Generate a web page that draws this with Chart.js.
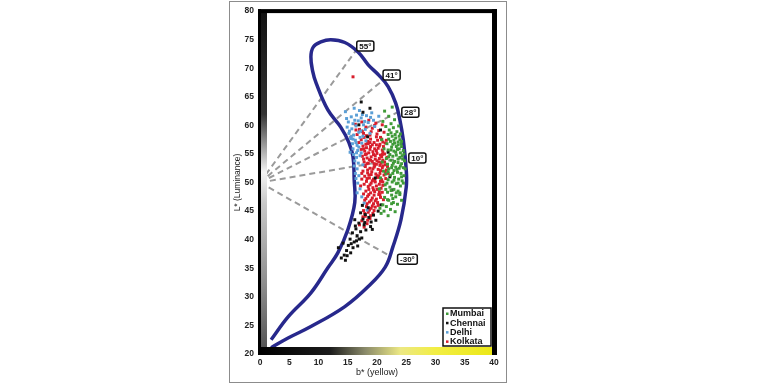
<!DOCTYPE html>
<html>
<head>
<meta charset="utf-8">
<script src="https://cdn.jsdelivr.net/npm/chart.js@4.4.1/dist/chart.umd.min.js"></script>
<style>
  html, body { margin: 0; background: #fff; }
</style>
</head>
<body>
<canvas id="chart" width="768" height="384"></canvas>
<script>
// ── data ──────────────────────────────────────────────────────
const xTicks = [0, 5, 10, 15, 20, 25, 30, 35, 40];
const yTicks = [20, 25, 30, 35, 40, 45, 50, 55, 60, 65, 70, 75, 80];

const seriesNames = ['Mumbai', 'Chennai', 'Delhi', 'Kolkata'];

const mumbai = [
    [22.1,59.2],[22.8,59.6],[23.4,58.9],[21.9,58.4],[22.6,58.1],[23.2,57.8],[23.9,57.5],[22.3,57.2],
    [21.7,56.8],[23.0,56.9],[23.6,56.6],[24.2,56.3],[22.5,56.2],[21.9,55.7],[22.9,55.5],[23.5,55.8],
    [24.0,55.2],[24.5,55.6],[22.2,54.9],[22.7,54.6],[23.3,54.8],[23.9,54.4],[24.4,54.1],[21.6,54.2],
    [22.4,53.9],[23.0,53.7],[23.6,53.5],[24.2,53.3],[24.7,53.8],[21.8,53.2],[22.6,53.0],[23.2,52.7],
    [23.8,52.5],[24.5,52.6],[22.0,52.4],[22.9,52.1],[23.5,51.8],[24.1,51.6],[24.6,51.2],[21.5,51.5],
    [22.3,51.3],[23.0,50.9],[23.7,50.6],[24.3,50.3],[21.9,50.5],[22.6,50.1],[23.3,49.8],[24.0,49.4],
    [24.5,49.9],[21.4,49.6],[22.2,49.2],[22.9,48.8],[23.6,48.5],[21.8,48.3],[22.5,47.8],[23.2,47.5],
    [23.9,47.9],[21.3,47.4],[22.0,46.9],[22.8,46.5],[23.5,46.2],[21.6,45.8],[22.3,45.3],[21.0,46.1],
    [20.7,44.6],[21.9,44.2],[23.1,44.9],[20.5,45.5],[22.4,60.3],[21.5,59.8],[23.0,61.0],[22.0,61.6],
    [21.3,62.5],[22.6,63.2],[21.0,60.7],[24.2,57.2],[24.6,55.0],[24.8,52.4],[20.8,57.5],[21.2,55.9],
    [20.9,53.6],[21.1,52.0],[20.6,50.8],[20.4,48.9],[24.0,58.5],[23.7,59.9],[23.3,56.3],[22.7,51.6],
    [23.9,48.2],[24.2,46.9],[22.4,58.7],[23.1,58.4],[23.8,58.1],[22.0,57.6],[22.9,57.4],[23.6,57.1],
    [22.7,56.7],[24.1,56.8],[22.4,55.7],[23.2,55.3],[23.8,55.9],[24.3,54.7],[22.0,54.5],[23.6,54.1],
    [22.8,53.4],[24.0,52.9],[22.5,52.6],[23.4,52.3],[21.9,51.9],[24.2,51.0],[22.9,50.4],[23.6,49.9],
    [21.7,49.9],[22.4,48.6],[23.3,48.2],[21.5,48.8],[22.7,47.2],[21.8,47.0],[22.5,46.3],[21.2,45.0]
];

const chennai = [
    [17.2,44.7],[18.0,44.4],[18.6,43.9],[17.6,43.6],[19.0,43.1],[16.9,42.9],[17.8,42.6],[16.4,41.9],
    [17.2,41.4],[18.1,41.7],[15.8,41.2],[16.6,40.7],[17.4,40.3],[15.4,40.1],[16.1,39.6],[15.1,39.0],
    [15.9,38.6],[16.7,38.9],[14.8,38.1],[15.5,37.7],[14.4,37.3],[13.9,36.8],[14.6,36.4],[13.4,38.6],
    [14.2,39.4],[18.5,45.6],[19.4,44.3],[19.8,43.4],[20.2,45.0],[17.5,46.0],[18.9,42.3],[16.2,43.5],
    [22.2,51.0],[22.6,48.7],[19.7,50.8],[17.3,64.1],[17.6,62.3],[18.8,63.0],[16.9,60.1],[20.6,59.2],
    [21.9,55.3],[18.4,58.0],[20.7,46.1],[16.3,42.4],[17.0,40.1],[15.6,39.3],[14.9,37.2],[16.5,39.8],
    [19.2,41.8],[17.9,43.0]
];

const delhi = [
    [14.8,61.2],[15.6,61.5],[16.5,61.8],[17.3,61.3],[18.2,61.7],[15.1,60.6],[15.9,60.3],[16.8,60.8],
    [17.7,60.1],[18.5,60.5],[19.4,60.9],[14.9,59.7],[15.7,59.4],[16.4,59.9],[17.2,59.0],[18.0,59.3],
    [15.2,58.6],[16.0,58.3],[16.9,58.8],[17.6,58.1],[15.5,57.7],[16.3,57.4],[17.1,57.9],[15.8,56.8],
    [16.6,56.5],[17.4,56.9],[15.9,55.9],[16.7,55.6],[17.3,55.2],[16.0,54.9],[16.5,54.4],[17.1,54.7],
    [16.2,53.8],[16.8,53.4],[16.1,52.9],[16.6,52.4],[16.3,51.6],[16.9,51.2],[16.4,50.7],[16.7,49.9],
    [17.1,48.9],[16.6,48.2],[17.4,47.5],[17.8,46.4],[18.3,45.2],[19.1,62.2],[18.8,58.6],[19.6,59.8],
    [14.6,62.4],[16.1,63.0],[17.0,62.6],[20.3,61.6],[18.1,57.3],[15.4,55.3],[17.6,53.1],[15.3,59.0],
    [16.2,60.9],[17.9,60.7],[15.6,58.0],[16.4,57.0],[15.9,57.6],[16.5,55.2],[16.9,56.2],[17.5,61.9],
    [18.9,61.4]
];

const kolkata = [
    [16.3,60.2],[17.4,60.6],[18.6,60.9],[19.8,60.4],[20.9,60.1],[17.0,59.3],[18.1,59.7],[19.2,59.5],
    [20.3,59.1],[21.2,58.8],[16.6,58.4],[17.7,58.6],[18.8,58.3],[19.9,58.0],[20.8,57.6],[17.3,57.5],
    [18.4,57.2],[19.5,57.0],[20.5,56.7],[21.4,56.9],[17.6,56.4],[18.2,56.1],[18.9,56.3],[19.6,55.9],
    [20.2,56.0],[20.9,55.7],[17.9,55.5],[18.6,55.2],[19.3,55.4],[20.0,55.1],[20.6,54.8],[21.3,55.0],
    [17.5,54.6],[18.3,54.3],[19.0,54.5],[19.7,54.1],[20.4,54.2],[21.0,53.9],[21.7,54.4],[17.8,53.6],
    [18.5,53.4],[19.2,53.7],[19.9,53.2],[20.7,53.4],[21.4,53.1],[18.0,52.8],[18.8,52.5],[19.5,52.7],
    [20.2,52.3],[20.9,52.6],[21.6,52.2],[17.6,52.0],[18.4,51.7],[19.1,51.9],[19.8,51.5],[20.5,51.6],
    [21.2,51.3],[17.9,51.1],[18.7,50.8],[19.4,50.6],[20.1,50.9],[20.8,50.5],[21.5,50.7],[18.2,50.2],
    [19.0,49.9],[19.7,50.1],[20.4,49.7],[18.5,49.3],[19.3,49.1],[20.0,48.8],[20.7,49.0],[18.1,48.5],
    [18.9,48.2],[19.6,48.4],[20.3,47.9],[18.4,47.6],[19.2,47.3],[19.9,47.1],[20.6,47.4],[17.9,46.9],
    [18.7,46.6],[19.4,46.3],[20.1,46.5],[18.2,45.8],[19.0,45.5],[19.7,45.7],[17.7,45.1],[18.5,44.8],
    [19.3,44.6],[18.0,44.1],[18.8,43.7],[17.4,43.3],[18.3,42.8],[17.8,42.2],[18.5,56.8],[19.9,56.6],
    [21.1,56.3],[18.0,54.9],[19.4,54.9],[20.8,54.5],[18.9,53.9],[20.3,53.6],[17.9,53.0],[19.6,52.9],
    [21.0,52.9],[18.6,51.3],[20.0,51.2],[21.0,50.1],[19.2,50.3],[17.3,55.8],[20.6,57.9],[19.0,58.9],
    [21.6,57.4],[21.8,52.8],[21.9,51.6],[17.4,50.6],[17.2,49.4],[20.9,48.3],[21.1,47.0],[16.9,57.0],
    [16.4,59.2],[15.9,68.5],[17.8,57.9],[18.9,57.6],[20.1,57.4],[21.0,57.1],[18.1,56.7],[19.2,56.6],
    [20.4,56.4],[17.7,55.9],[18.8,55.8],[19.9,55.6],[21.0,55.3],[18.2,55.0],[19.7,54.7],[20.9,54.9],
    [17.7,54.1],[18.7,54.0],[20.0,53.8],[21.3,53.6],[18.3,53.3],[19.5,53.3],[20.5,53.0],[18.4,52.2],
    [19.3,52.4],[20.6,52.1],[17.4,51.6],[19.0,51.4],[20.3,51.1],[21.4,51.8],[18.3,50.7],[19.6,50.4],
    [20.6,50.2],[17.8,49.7],[18.8,49.6],[19.9,49.4],[21.0,49.5],[18.6,48.8],[19.4,48.7],[20.4,48.4],
    [17.7,48.0],[18.6,47.9],[19.5,47.8],[20.5,47.9],[18.1,47.2],[19.0,46.9],[19.7,46.8],[18.3,46.3],
    [19.2,45.9],[20.2,46.0],[18.7,45.2],[19.5,45.1],[17.9,44.6],[18.9,44.2],[17.6,44.0],[18.4,43.4],
    [17.0,42.6],[18.8,57.0],[20.0,58.5],[17.5,58.9],[19.6,60.0],[18.2,58.2]
];

// gamut boundary, traced bottom-outer → top → bottom-inner
const crescent = [
    [1.9,21.1],[4.8,22.8],[8.7,24.8],[14.5,28.3],[18.5,31.8],[21.4,35.2],[22.7,38.7],[24.1,43.5],
    [25.0,49.2],[25.0,52.2],[24.5,57.4],[23.9,61.0],[23.2,63.9],[21.9,66.8],[20.3,68.8],[18.5,70.6],
    [16.8,72.8],[14.5,74.5],[12.1,75.0],[10.4,74.6],[9.1,73.7],[8.7,72.0],[9.0,69.5],[9.6,67.4],
    [11.6,62.7],[13.8,59.7],[15.2,57.0],[15.9,54.5],[16.1,50.5],[16.2,46.5],[15.0,41.7],[13.3,37.7],
    [11.6,35.1],[8.7,30.7],[4.8,26.5],[1.9,22.5]
];

// hue angle rays from the neutral point
const hueOrigin = [0, 50];
const hueAngles = ['55°', '41°', '28°', '10°', '-30°'];
const hueEnds   = [[16.4,73.1],[21.0,67.9],[23.7,62.4],[25.1,54.4],[22.3,37.1]];
const hueLabels = [[18.0,73.9],[22.5,68.8],[25.7,62.3],[26.9,54.3],[25.2,36.6]];

const C = {
    mumbai:  '#3f9a38',
    chennai: '#111111',
    delhi:   '#5b9fd6',
    kolkata: '#d81e2c',
    navy:    '#27288c',
    ray:     '#9a9a9a',
};
const FONT = "'Liberation Sans', Arial, sans-serif";

// ── datasets ──────────────────────────────────────────────────
const pts = (arr, color) => ({
    data: arr.map(p => ({ x: p[0], y: p[1] })),
    backgroundColor: color, borderWidth: 0,
    pointStyle: 'rect', pointRadius: 2.1, showLine: false, order: 1,
});

const rays = hueEnds.map(e => ({
    data: [{ x: hueOrigin[0], y: hueOrigin[1] }, { x: e[0], y: e[1] }],
    showLine: true, borderColor: C.ray, borderWidth: 2, borderDash: [6, 4],
    pointRadius: 0, order: 5,
}));

const seriesData  = [mumbai, chennai, delhi, kolkata];
const seriesColor = [C.mumbai, C.chennai, C.delhi, C.kolkata];

const datasets = [
    ...seriesData.map((s, i) => pts(s, seriesColor[i])),
    {
        data: crescent.map(p => ({ x: p[0], y: p[1] })),
        showLine: true, borderColor: C.navy, borderWidth: 3.5, tension: 0.4,
        pointRadius: 0, order: 3,
    },
    ...rays,
];

// ── frame, axis strips, labels, legend ───────────────────────
const decor = {
    id: 'decor',
    beforeDraw(chart) {
        const ctx = chart.ctx;
        ctx.save();
        ctx.fillStyle = '#fff';
        ctx.fillRect(0, 0, chart.width, chart.height);
        ctx.strokeStyle = '#8c8c8c';
        ctx.lineWidth = 1;
        ctx.strokeRect(229.5, 1.5, 277, 381);
        ctx.restore();
    },
    afterDatasetsDraw(chart) {
        const { ctx, chartArea: a, scales: { x, y } } = chart;
        ctx.save();

        // left luminance strip
        ctx.fillStyle = '#000';
        ctx.fillRect(a.left - 2, a.top - 2, 3, a.bottom - a.top + 2);
        const gl = ctx.createLinearGradient(0, a.top, 0, a.bottom);
        gl.addColorStop(0, '#111');
        gl.addColorStop(0.3, '#333');
        gl.addColorStop(0.47, '#f4f4f4');
        gl.addColorStop(0.56, '#c8c8c8');
        gl.addColorStop(0.8, '#8c8c8c');
        gl.addColorStop(1, '#505050');
        ctx.fillStyle = gl;
        ctx.fillRect(a.left + 1, a.top, 6, a.bottom - a.top);

        // bottom yellow strip
        const gb = ctx.createLinearGradient(a.left, 0, a.right, 0);
        gb.addColorStop(0, '#000');
        gb.addColorStop(0.3, '#1c1c1c');
        gb.addColorStop(0.45, '#8a8a6a');
        gb.addColorStop(0.6, '#ece884');
        gb.addColorStop(0.75, '#f2ee44');
        gb.addColorStop(1, '#ebe716');
        ctx.fillStyle = gb;
        ctx.fillRect(a.left - 2, a.bottom - 7, a.right - a.left + 4, 8);

        // top and right border
        ctx.fillStyle = '#000';
        ctx.fillRect(a.left - 2, a.top - 2, a.right - a.left + 5, 4);
        ctx.fillRect(a.right - 2, a.top - 2, 5, a.bottom - a.top + 3);

        // hue angle labels
        ctx.font = `bold 8px ${FONT}`;
        ctx.textAlign = 'center';
        ctx.textBaseline = 'middle';
        hueLabels.forEach((p, i) => {
            const px = x.getPixelForValue(p[0]);
            const py = y.getPixelForValue(p[1]);
            const w = ctx.measureText(hueAngles[i]).width + 5;
            const h = 10;
            ctx.beginPath();
            ctx.roundRect(px - w / 2, py - h / 2, w, h, 2);
            ctx.fillStyle = '#fff';
            ctx.fill();
            ctx.lineWidth = 1.5;
            ctx.strokeStyle = '#111';
            ctx.stroke();
            ctx.fillStyle = '#111';
            ctx.fillText(hueAngles[i], px, py + 0.5);
        });

        // legend box
        const lx = a.right - 51, ly = a.bottom - 46;
        ctx.fillStyle = '#fff';
        ctx.fillRect(lx, ly, 48, 38);
        ctx.lineWidth = 1.5;
        ctx.strokeStyle = '#111';
        ctx.strokeRect(lx, ly, 48, 38);
        ctx.font = `bold 9px ${FONT}`;
        ctx.textAlign = 'left';
        seriesNames.forEach((name, i) => {
            const ty = ly + 5.5 + i * 9.3;
            ctx.fillStyle = seriesColor[i];
            ctx.fillRect(lx + 3, ty - 1, 2.5, 2.5);
            ctx.fillStyle = '#111';
            ctx.fillText(name, lx + 7, ty + 0.5);
        });

        ctx.restore();
    }
};

new Chart(document.getElementById('chart'), {
    type: 'scatter',
    data: { datasets },
    plugins: [decor],
    options: {
        responsive: false, animation: false,
        layout: { padding: { left: 229, right: 274, top: 11, bottom: 0 } },
        plugins: { legend: { display: false }, tooltip: { enabled: false } },
        scales: {
            x: {
                type: 'linear', min: 0, max: 40,
                afterFit: s => { s.height = 30; },
                afterBuildTicks: s => { s.ticks = xTicks.map(v => ({ value: v })); },
                grid: { display: false, drawTicks: false },
                border: { display: false },
                ticks: { padding: 4, color: '#222', font: { family: FONT, size: 8.5, weight: 'bold' } },
                title: { display: true, text: 'b* (yellow)', color: '#222',
                         font: { family: FONT, size: 9 }, padding: { top: 0, bottom: 6 } },
            },
            y: {
                type: 'linear', min: 20, max: 80,
                afterFit: s => { s.width = 31; },
                afterBuildTicks: s => { s.ticks = yTicks.map(v => ({ value: v })); },
                grid: { display: false, drawTicks: false },
                border: { display: false },
                ticks: { padding: 6, color: '#222', font: { family: FONT, size: 8.5, weight: 'bold' } },
                title: { display: true, text: 'L* (Luminance)', color: '#222',
                         font: { family: FONT, size: 8.5 }, padding: { top: 4, bottom: 0 } },
            },
        },
    },
});
</script>
</body>
</html>
